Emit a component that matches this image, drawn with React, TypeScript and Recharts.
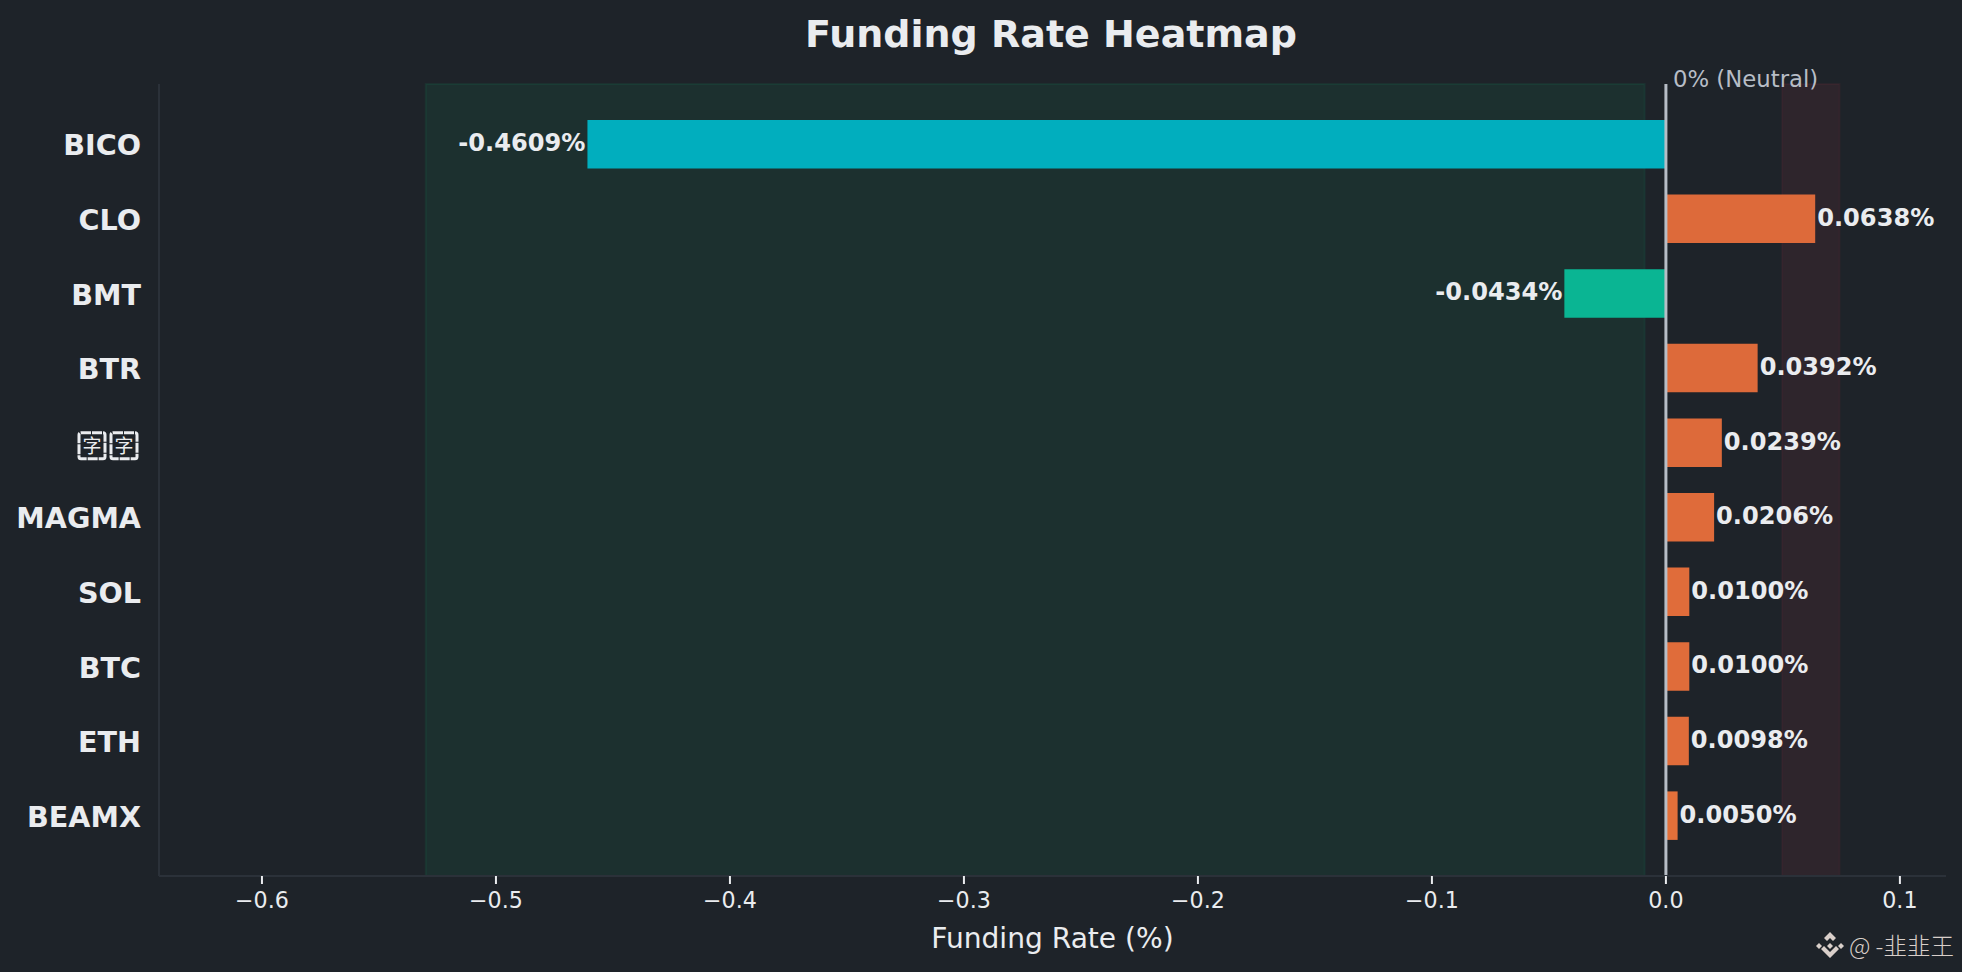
import { BarChart, Bar, Cell, XAxis, YAxis, ReferenceArea, ReferenceLine, LabelList } from 'recharts';

const symbols = ['BICO', 'CLO', 'BMT', 'BTR', '字字', 'MAGMA', 'SOL', 'BTC', 'ETH', 'BEAMX'];
const rates = [-0.4609, 0.0638, -0.0434, 0.0392, 0.0239, 0.0206, 0.01, 0.01, 0.0098, 0.005];
const barColors = ['#01aebe', '#dd6a3a', '#0ab593', '#dd6a3a', '#dd6a3a', '#df6b3a', '#e06c3a', '#e06c3a', '#e06c3a', '#e3703a'];
const xTicks = [-0.6, -0.5, -0.4, -0.3, -0.2, -0.1, 0, 0.1];
const xDomain = [-0.644, 0.1197];
const greenZone = [-0.53, -0.0091];
const redZone = [0.0497, 0.0742];

const FONT = '"DejaVu Sans", sans-serif';
const BG = '#1e2329';
const TEXT = '#eaecef';
const Y_PAD = 23;

const chartData = symbols.map((symbol, i) => ({ symbol, rate: rates[i] }));

function formatTick(v: number) {
  if (v < 0) return `\u2212${Math.abs(v).toFixed(1)}`;
  return v.toFixed(1);
}

function SymbolTick({ x, y, payload }: any) {
  const label: string = payload.value;
  if (/[\u4e00-\u9fff]/.test(label)) {
    // missing glyph boxes, as the original font drew them
    return (
      <g>
        {label.split('').map((ch, i) => {
          const bx = x - 62 + i * 32;
          return (
            <g key={i}>
              <rect x={bx} y={y - 10} width={26} height={26} rx={2} fill="none" stroke={TEXT} strokeWidth={3} strokeDasharray="10 1" />
              <text x={bx + 13} y={y + 10} textAnchor="middle" fontSize={19} fontWeight={400} fill={TEXT} fontFamily='"Noto Sans CJK SC"'>
                {ch}
              </text>
            </g>
          );
        })}
      </g>
    );
  }
  return (
    <text x={x} y={y} dy={11} textAnchor="end" fontSize={28.6} fontWeight={700} fill={TEXT} fontFamily={FONT}>
      {label}
    </text>
  );
}

function RateLabel({ x, y, width, height, value }: any) {
  const end = x + width;
  const negative = value < 0;
  return (
    <text
      x={negative ? end - 2 : end + 2}
      y={y + height / 2 + 7}
      textAnchor={negative ? 'end' : 'start'}
      fontSize={24.1}
      fontWeight={700}
      fill={TEXT}
      fontFamily={FONT}
    >
      {`${value.toFixed(4)}%`}
    </text>
  );
}

// reference areas skip the category padding by default, the zones run the full axis height
function ZoneRect({ x, y, width, height, fill, fillOpacity, stroke, strokeOpacity, strokeWidth }: any) {
  return (
    <rect
      x={x}
      y={y - Y_PAD}
      width={width}
      height={height + Y_PAD * 2}
      fill={fill}
      fillOpacity={fillOpacity}
      stroke={stroke}
      strokeOpacity={strokeOpacity}
      strokeWidth={strokeWidth}
    />
  );
}

export default function App() {
  return (
    <div style={{ position: 'absolute', left: 0, top: 0, width: 1962, height: 972, background: BG, fontFamily: FONT }}>
      <BarChart
        width={1962}
        height={972}
        data={chartData}
        layout="vertical"
        barSize={48.5}
        margin={{ top: 84, right: 16, bottom: 0, left: 0 }}
      >
        <XAxis
          type="number"
          domain={xDomain}
          ticks={xTicks}
          allowDataOverflow
          tickFormatter={formatTick}
          tick={{ fill: TEXT, fontSize: 22.2, fontFamily: FONT }}
          tickLine={{ stroke: TEXT, strokeWidth: 2 }}
          tickSize={8}
          tickMargin={8}
          axisLine={{ stroke: '#2b3139', strokeWidth: 2 }}
          height={96}
          label={{ value: 'Funding Rate (%)', position: 'insideTop', offset: 52, fill: TEXT, fontSize: 28.1, fontFamily: FONT }}
        />
        <YAxis
          type="category"
          dataKey="symbol"
          width={159}
          interval={0}
          padding={{ top: Y_PAD, bottom: Y_PAD }}
          tick={<SymbolTick />}
          tickLine={false}
          tickMargin={12}
          axisLine={{ stroke: '#2b3139', strokeWidth: 2 }}
        />
        <ReferenceArea x1={greenZone[0]} x2={greenZone[1]} fill="#0ecb81" fillOpacity={0.08} stroke="#0ecb81" strokeOpacity={0.08} strokeWidth={2} shape={<ZoneRect />} />
        <Bar dataKey="rate" isAnimationActive={false}>
          {chartData.map((d, i) => (
            <Cell key={d.symbol} fill={barColors[i]} />
          ))}
          <LabelList dataKey="rate" content={<RateLabel />} />
        </Bar>
        <ReferenceArea x1={redZone[0]} x2={redZone[1]} fill="#f6465d" fillOpacity={0.08} stroke="#f6465d" strokeOpacity={0.06} strokeWidth={2} shape={<ZoneRect />} />
        <ReferenceLine
          x={0}
          stroke="#b7bdc6"
          strokeWidth={3}
          label={{ value: '0% (Neutral)', position: 'insideTopLeft', offset: 0, fill: '#b7bdc6', fontSize: 22.8, fontFamily: FONT, dx: 7, dy: -13 }}
        />
      </BarChart>
      <div style={{ position: 'absolute', left: 0, top: 12, width: 2102, textAlign: 'center', fontSize: 38, fontWeight: 700, color: TEXT, lineHeight: '44px' }}>
        Funding Rate Heatmap
      </div>
      <svg width={30} height={30} viewBox="0 0 30 30" style={{ position: 'absolute', left: 1815, top: 931 }}>
        <g fill="#d9cfca">
          <path d="M15 1l6 6-3 3-3-3-3 3-3-3z" />
          <path d="M1 15l3-3 3 3-3 3z" />
          <path d="M23 15l3-3 3 3-3 3z" />
          <path d="M15 12l3 3-3 3-3-3z" />
          <path d="M6 18l3-3 6 6 6-6 3 3-9 9z" />
        </g>
      </svg>
      <div style={{ position: 'absolute', left: 1849, top: 930, fontSize: 23.5, lineHeight: '30px', fontWeight: 300, color: '#d9cfca', whiteSpace: 'nowrap', fontFamily: '"Noto Sans CJK SC", sans-serif' }}>
        @ -韭韭王
      </div>
    </div>
  );
}
